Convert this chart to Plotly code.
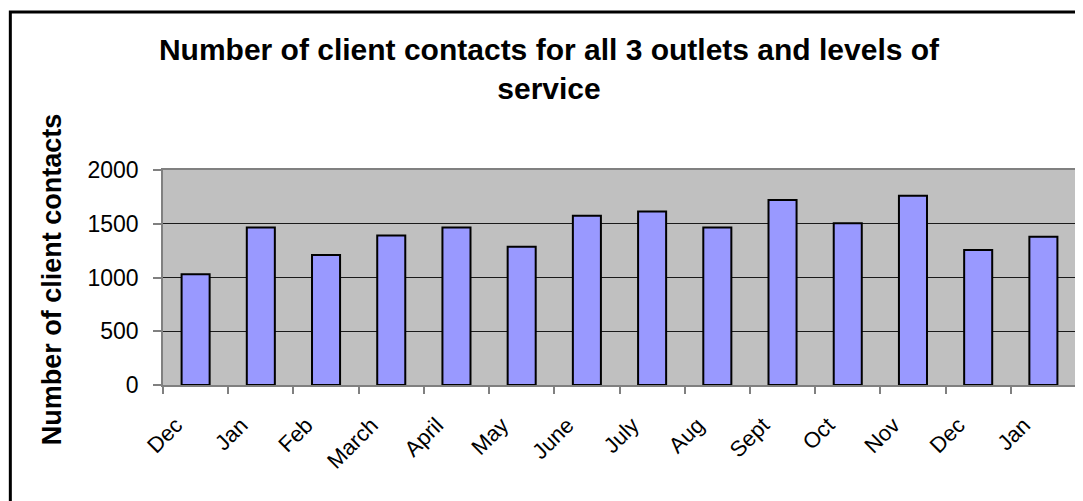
import plotly.graph_objects as go

months = ["Dec", "Jan", "Feb", "March", "April", "May", "June", "July",
          "Aug", "Sept", "Oct", "Nov", "Dec", "Jan"]
contacts = [1030, 1465, 1210, 1390, 1465, 1285, 1575, 1615,
            1465, 1720, 1505, 1760, 1255, 1380]
y_ticks = [0, 500, 1000, 1500, 2000]

positions = list(range(len(months)))
boundaries = [p - 0.5 for p in range(len(months) + 1)]
LABEL_SHIFT = -0.3  # rotated labels end slightly left of the bar centre
label_positions = [p + LABEL_SHIFT for p in positions]

FONT = "Liberation Sans, Arial, sans-serif"
GRAY = "#808080"

fig = go.Figure()
fig.add_trace(go.Bar(
    x=positions, y=contacts,
    marker=dict(color="#9999FF", line=dict(color="black", width=2)),
    width=0.43,
    showlegend=False,
))
# invisible trace so the label axis is rendered
fig.add_trace(go.Scatter(
    x=positions, y=contacts, xaxis="x2", mode="markers",
    marker=dict(opacity=0), hoverinfo="skip", showlegend=False,
))

# page has an 8px body margin; figure coordinates are offset by it
W, H = 1075, 493
L, R, T, B = 155, 5, 162, 116
pw, ph = W - L - R, H - T - B

fig.update_layout(
    width=W, height=H,
    margin=dict(l=L, r=R, t=T, b=B),
    paper_bgcolor="white",
    plot_bgcolor="#C0C0C0",
    font=dict(family=FONT, color="black"),
    title=dict(
        text="<b>Number of client contacts for all 3 outlets and levels of<br>service</b>",
        x=(549 - 8) / W, xref="container", xanchor="center",
        y=1 - 52 / H, yref="container", yanchor="top",
        font=dict(size=30, family=FONT, color="black"),
    ),
    xaxis=dict(
        range=[-0.5, len(months) - 0.5],
        tickmode="array", tickvals=boundaries, showticklabels=False,
        ticks="outside", ticklen=7, tickcolor=GRAY, tickwidth=1.5,
        showline=True, linecolor=GRAY, linewidth=1.5, mirror=True,
        showgrid=False, zeroline=False, fixedrange=True,
    ),
    xaxis2=dict(
        overlaying="x", range=[-0.5, len(months) - 0.5], side="bottom",
        tickmode="array", tickvals=label_positions, ticktext=months,
        tickangle=-45, ticks="", tickfont=dict(size=22, family=FONT),
        ticklabelstandoff=22,
        showline=False, showgrid=False, zeroline=False,
    ),
    yaxis=dict(
        range=[0, 2000], tickmode="array", tickvals=y_ticks,
        ticks="outside", ticklen=8, tickcolor=GRAY, tickwidth=1.5,
        tickfont=dict(size=23, family=FONT), ticklabelstandoff=10,
        showline=True, linecolor=GRAY, linewidth=1.5, mirror=True,
        showgrid=True, gridcolor="#1a1a1a", gridwidth=1,
        zeroline=False,
    ),
)

# y-axis title placed precisely
fig.add_annotation(
    text="<b>Number of client contacts</b>", textangle=-90,
    xref="paper", yref="paper",
    x=(44 - L) / pw, y=(H - B - 271) / ph,
    xanchor="center", yanchor="middle", showarrow=False,
    font=dict(size=27, family=FONT, color="black"),
)

# outer chart border (extends beyond right and bottom edges like the reference)
fig.add_shape(
    type="rect", xref="paper", yref="paper",
    x0=(2 - L) / pw, x1=(W + 6 - L) / pw,
    y0=-(B + 6) / ph, y1=(H - B - 4) / ph,
    line=dict(color="black", width=3), fillcolor="rgba(0,0,0,0)",
    layer="below",
)

fig.write_html("out.html")
